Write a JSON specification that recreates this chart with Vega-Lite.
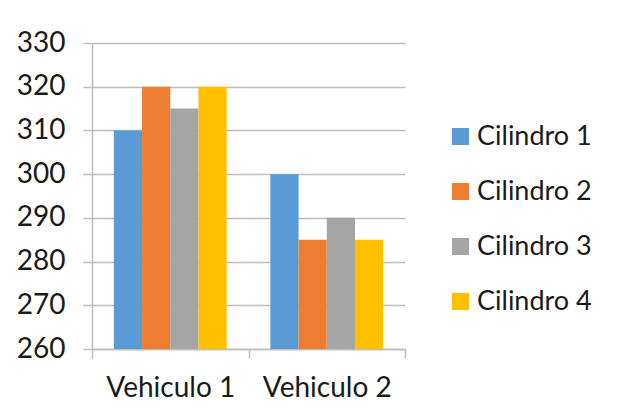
{
  "$schema": "https://vega.github.io/schema/vega-lite/v6.json",
  "width": 313,
  "height": 306,
  "autosize": {"type": "none"},
  "padding": {"left": 92, "top": 43, "right": 222, "bottom": 67},
  "background": "white",
  "data": {
    "values": [
      {"vehiculo": "Vehiculo 1", "cilindro": "Cilindro 1", "valor": 310},
      {"vehiculo": "Vehiculo 1", "cilindro": "Cilindro 2", "valor": 320},
      {"vehiculo": "Vehiculo 1", "cilindro": "Cilindro 3", "valor": 315},
      {"vehiculo": "Vehiculo 1", "cilindro": "Cilindro 4", "valor": 320},
      {"vehiculo": "Vehiculo 2", "cilindro": "Cilindro 1", "valor": 300},
      {"vehiculo": "Vehiculo 2", "cilindro": "Cilindro 2", "valor": 285},
      {"vehiculo": "Vehiculo 2", "cilindro": "Cilindro 3", "valor": 290},
      {"vehiculo": "Vehiculo 2", "cilindro": "Cilindro 4", "valor": 285}
    ]
  },
  "mark": {"type": "bar", "clip": true},
  "encoding": {
    "x": {
      "field": "vehiculo",
      "type": "nominal",
      "title": null,
      "scale": {"paddingInner": 0, "paddingOuter": 0},
      "axis": {
        "labelAngle": 0,
        "tickBand": "extent",
        "tickSize": 9,
        "tickColor": "#bdbdbd",
        "tickWidth": 1.5,
        "domainColor": "#bdbdbd",
        "domainWidth": 1.5,
        "labelPadding": 16,
        "grid": false
      }
    },
    "xOffset": {
      "field": "cilindro",
      "type": "nominal",
      "scale": {"paddingInner": 0, "paddingOuter": 0.775}
    },
    "y": {
      "field": "valor",
      "type": "quantitative",
      "title": null,
      "scale": {"domain": [260, 330], "zero": false, "nice": false},
      "axis": {
        "values": [260, 270, 280, 290, 300, 310, 320, 330],
        "tickSize": 9,
        "tickColor": "#bdbdbd",
        "tickWidth": 1.5,
        "domainColor": "#bdbdbd",
        "domainWidth": 1.5,
        "gridColor": "#bdbdbd",
        "gridWidth": 1.5,
        "labelPadding": 18
      }
    },
    "y2": {"datum": 260},
    "color": {
      "field": "cilindro",
      "type": "nominal",
      "title": null,
      "scale": {
        "domain": ["Cilindro 1", "Cilindro 2", "Cilindro 3", "Cilindro 4"],
        "range": ["#5B9BD5", "#ED7D31", "#A5A5A5", "#FFC000"]
      },
      "legend": {
        "orient": "none",
        "legendX": 355,
        "legendY": 80,
        "symbolType": "square",
        "symbolSize": 289,
        "symbolStrokeWidth": 0,
        "rowPadding": 27,
        "labelOffset": 3,
        "labelFontSize": 27,
        "labelFont": "Lato",
        "labelColor": "#1a1a1a"
      }
    }
  },
  "config": {
    "view": {"stroke": null},
    "axis": {
      "labelFont": "Lato",
      "labelFontSize": 28,
      "labelColor": "#1a1a1a"
    }
  }
}
